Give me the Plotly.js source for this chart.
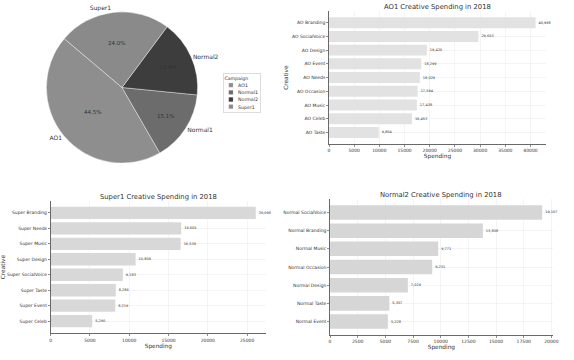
<!DOCTYPE html>
<html>
<head>
<meta charset="utf-8">
<script src="https://cdn.plot.ly/plotly-3.0.1.min.js"></script>
<style>html,body{margin:0;padding:0;background:#fff;}#chart{width:574px;height:360px;}</style>
</head>
<body>
<div id="chart"></div>
<script>
// Pie: campaign share of spending (percent)
const campaigns = ["AO1", "Normal1", "Normal2", "Super1"];
const campaignShare = [44.5, 15.1, 16.4, 24.0];
const campaignColors = ["#8e8e8e", "#6c6c6c", "#3d3d3d", "#8a8a8a"];

// AO1 creatives
const aoCreatives = ["AO Branding", "AO SocialVoice", "AO Design", "AO Event", "AO Needs", "AO Occasion", "AO Music", "AO Celeb", "AO Taste"];
const aoSpending = [40998, 29653, 19420, 18299, 18029, 17594, 17438, 16453, 9864];

// Super1 creatives
const superCreatives = ["Super Branding", "Super Needs", "Super Music", "Super Design", "Super SocialVoice", "Super Taste", "Super Event", "Super Celeb"];
const superSpending = [26098, 16605, 16539, 10809, 9183, 8286, 8219, 5290];

// Normal2 creatives
const normalCreatives = ["Normal SocialVoice", "Normal Branding", "Normal Music", "Normal Occasion", "Normal Design", "Normal Taste", "Normal Event"];
const normalSpending = [19167, 13808, 9771, 9231, 7029, 5357, 5228];

const FONT = "DejaVu Sans, sans-serif";

function barTrace(cats, vals, xa, ya, color) {
  return {
    type: "bar", orientation: "h", x: vals, y: cats, xaxis: xa, yaxis: ya,
    marker: {color: color, line: {width: 0}}, width: 0.8,
    text: vals.map(v => v.toLocaleString("en-US")), textposition: "outside",
    textfont: {size: 3.5, color: "#333", family: FONT},
    outsidetextfont: {size: 3.5, color: "#333", family: FONT}, cliponaxis: false,
    showlegend: false, hoverinfo: "x+y"
  };
}

const pieDomain = {x: [0.0801, 0.345], y: [0.547, 0.967]};
const data = [
  {
    type: "pie", labels: campaigns, values: campaignShare, sort: false,
    direction: "counterclockwise", rotation: 150,
    marker: {colors: campaignColors, line: {color: "#ffffff", width: 0.4}},
    textinfo: "percent", textposition: "inside", insidetextorientation: "horizontal",
    texttemplate: "%{percent:.1%}",
    textfont: {size: 5.5, color: "#333", family: FONT},
    insidetextfont: {size: 5.5, color: "#333", family: FONT},
    domain: pieDomain,
    hoverinfo: "label+percent", showlegend: true, name: "Campaign"
  },
  {
    type: "pie", labels: campaigns, values: campaignShare, sort: false,
    direction: "counterclockwise", rotation: 150,
    marker: {colors: ["rgba(0,0,0,0)", "rgba(0,0,0,0)", "rgba(0,0,0,0)", "rgba(0,0,0,0)"], line: {width: 0}},
    textinfo: "label", textposition: "outside",
    textfont: {size: 6, color: "#333", family: FONT},
    outsidetextfont: {size: 6, color: "#333", family: FONT},
    domain: pieDomain,
    hoverinfo: "skip", showlegend: false
  },
  barTrace(aoCreatives, aoSpending, "x", "y", "#e2e2e2"),
  barTrace(superCreatives, superSpending, "x2", "y2", "#d8d8d8"),
  barTrace(normalCreatives, normalSpending, "x3", "y3", "#d6d6d6")
];

function xax(domain, range, dtick, anchor) {
  return {
    domain: domain, range: range, dtick: dtick, tick0: 0, tickformat: "d",
    anchor: anchor, showgrid: true, gridcolor: "#ececec", gridwidth: 0.6,
    showline: true, linecolor: "#444", linewidth: 0.8, mirror: false,
    ticks: "outside", ticklen: 2, tickwidth: 0.6, tickcolor: "#444",
    tickfont: {size: 4.5, color: "#333", family: FONT}, zeroline: false,
    title: {text: "Spending", font: {size: 5.8, color: "#333", family: FONT}, standoff: 1}
  };
}
function yax(domain, range, anchor, titleText) {
  return {
    domain: domain, range: range, type: "category", anchor: anchor,
    showgrid: true, gridcolor: "#ececec", gridwidth: 0.6,
    showline: true, linecolor: "#444", linewidth: 0.8,
    ticks: "outside", ticklen: 2, tickwidth: 0.6, tickcolor: "#444",
    tickfont: {size: 4.5, color: "#333", family: FONT}, zeroline: false,
    title: {text: titleText, font: {size: 5.8, color: "#333", family: FONT}, standoff: 2}
  };
}

const LEGEND_SCALE = 0.36;
const layout = {
  width: 574, height: 360,
  margin: {l: 0, r: 0, t: 0, b: 0},
  paper_bgcolor: "#ffffff", plot_bgcolor: "#ffffff",
  font: {family: FONT, color: "#333"},
  showlegend: true,
  legend: {
    x: 223 / 574, y: 1 - 73 / 360, xanchor: "left", yanchor: "top",
    title: {text: "Campaign", font: {size: 13, color: "#333", family: FONT}, side: "top"},
    font: {size: 13, color: "#333", family: FONT},
    bordercolor: "#cfcfcf", borderwidth: 2, bgcolor: "#ffffff",
    itemwidth: 30, tracegroupgap: 0
  },
  xaxis: xax([0.5732, 0.951], [0, 43048], 5000, "y"),
  yaxis: yax([0.6, 0.969], [8.84, -0.84], "x", "Creative"),
  xaxis2: xax([0.0883, 0.4634], [0, 27403], 5000, "y2"),
  yaxis2: yax([0.074, 0.4425], [7.79, -0.79], "x2", "Creative"),
  xaxis3: xax([0.575, 0.963], [0, 20125], 2500, "y3"),
  yaxis3: yax([0.0694, 0.4472], [6.74, -0.74], "x3", ""),
  annotations: [
    {text: "AO1 Creative Spending in 2018", x: 0.762, y: 1 - 7/360, xref: "paper", yref: "paper", showarrow: false, xanchor: "center", yanchor: "middle", font: {size: 6.8, color: "#333", family: FONT}},
    {text: "Super1 Creative Spending in 2018", x: 0.276, y: 1 - 197/360, xref: "paper", yref: "paper", showarrow: false, xanchor: "center", yanchor: "middle", font: {size: 6.8, color: "#333", family: FONT}},
    {text: "Normal2 Creative Spending in 2018", x: 0.769, y: 1 - 195/360, xref: "paper", yref: "paper", showarrow: false, xanchor: "center", yanchor: "middle", font: {size: 6.8, color: "#333", family: FONT}}
  ]
};

Plotly.newPlot("chart", data, layout, {displayModeBar: false, staticPlot: true}).then(function (gd) {
  // shrink the legend box to match the compact matplotlib-style legend
  var lg = gd.querySelector("g.legend");
  if (lg) {
    var tr = lg.getAttribute("transform") || "";
    lg.setAttribute("transform", tr + " scale(" + LEGEND_SCALE + ")");
  }
});
</script>
</body>
</html>
